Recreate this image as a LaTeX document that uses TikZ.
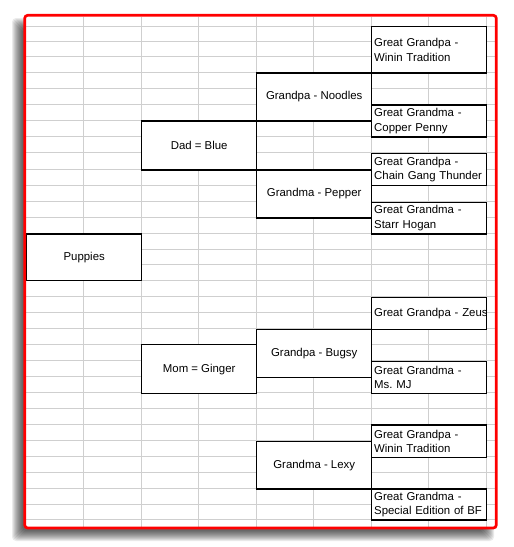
\documentclass[tikz,border=0pt]{standalone}
\usepackage{fontspec}
\setmainfont{Liberation Sans}
\frenchspacing
\newcommand\cellfont{\fontsize{11.4}{14.5}\selectfont}
\tikzset{
  cell/.style={draw=black, line width=1.4pt, fill=white, anchor=north west,
    minimum width=115pt, inner sep=0pt, font=\cellfont, text=black},
  midbox/.style={cell, align=center},
  ggbox/.style={cell, text width=110pt, inner xsep=2.5pt, align=left},
  gridline/.style={draw=black!19, line width=1pt},
}
\begin{document}
\begin{tikzpicture}[x=1pt,y=-1pt]
\useasboundingbox (0,0) rectangle (514,547);
% shadow
\foreach \d in {-5,...,5}{
  \fill[black, opacity=0.08, rounded corners=4] (17-\d,23-\d) rectangle (489+\d,536+\d);
}
% sheet
\fill[white, rounded corners=3] (24.7,15.3) rectangle (496.3,528);
% grid
\foreach \gx in {83.5,141,198.5,256,313.5,371,428.5,486}{
  \draw[gridline] (\gx,16.5) -- (\gx,527);
}
\foreach \gy in {26,41.3,56.7,72.3,88,104.3,120.3,136.3,152.7,169.3,185,201.7,217.3,233.3,249,264.3,280,296.7,312.7,328.7,344,360.7,376.7,392.7,408.7,424.3,440.7,456.7,472.3,488.3,504,519.3}{
  \draw[gridline] (26,\gy) -- (495,\gy);
}
% generation 0
\node[midbox, minimum height=46.7pt] (pup) at (26,233.3) {Puppies};
% parents
\node[midbox, minimum height=49pt] (dad) at (141,120.3) {Dad = Blue};
\node[midbox, minimum height=48.7pt] (mom) at (141,344) {Mom = Ginger};
% grandparents
\node[midbox, minimum height=48pt] (gpn) at (256,72.3) {Grandpa - Noodles};
\node[midbox, minimum height=48pt] (gmp) at (256,169.3) {Grandma - Pepper};
\node[midbox, minimum height=48pt] (gpb) at (256,328.7) {Grandpa - Bugsy};
\node[midbox, minimum height=47.6pt] (gml) at (256,440.7) {Grandma - Lexy};
% great grandparents
\node[ggbox, minimum height=46.3pt] (ggp1) at (371,26) {Great Grandpa -\\Winin Tradition};
\node[ggbox, minimum height=32pt] (ggm1) at (371,104.3) {Great Grandma -\\Copper Penny};
\node[ggbox, minimum height=32.3pt] (ggp2) at (371,152.7) {Great Grandpa -\\Chain Gang Thunder};
\node[ggbox, minimum height=31.6pt] (ggm2) at (371,201.7) {Great Grandma -\\Starr Hogan};
\node[ggbox, minimum height=32pt] (ggp3) at (371,296.7) {\mbox{Great Grandpa - Zeus}};
\node[ggbox, minimum height=32pt] (ggm3) at (371,360.7) {Great Grandma -\\Ms. MJ};
\node[ggbox, minimum height=32.4pt] (ggp4) at (371,424.3) {Great Grandpa -\\Winin Tradition};
\node[ggbox, minimum height=31pt] (ggm4) at (371,488.3) {Great Grandma -\\Special Edition of BF};
% frame
\draw[red, line width=2.7pt, rounded corners=3] (24.7,15.3) rectangle (496.3,528);
\end{tikzpicture}
\end{document}
